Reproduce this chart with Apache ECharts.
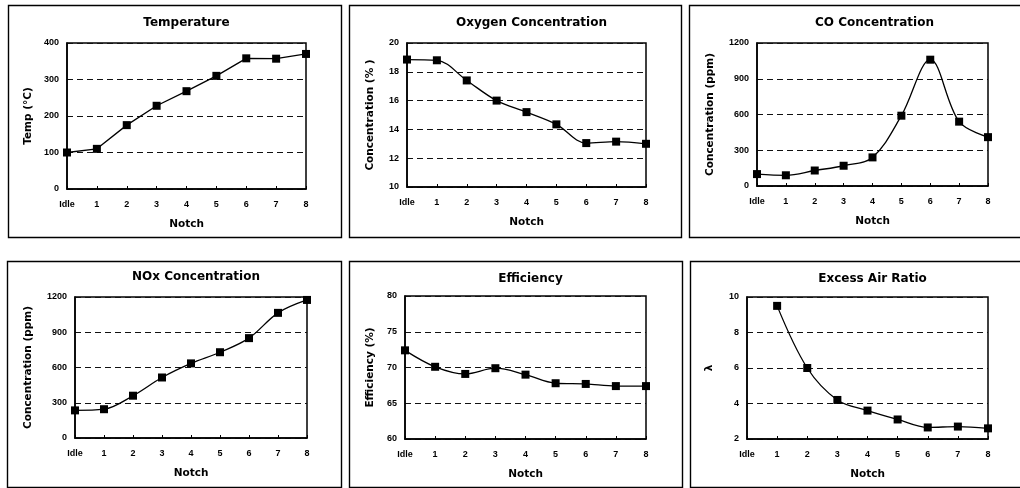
<!DOCTYPE html>
<html>
<head>
<meta charset="utf-8">
<style>
  html, body { margin: 0; padding: 0; background: #fff; }
  #chart { width: 1020px; height: 488px; }
</style>
<script src="https://cdn.jsdelivr.net/npm/echarts@6/dist/echarts.min.js"></script>
</head>
<body>
<div id="chart"></div>
<script>
// ---- Data ----
var notches = ['Idle', '1', '2', '3', '4', '5', '6', '7', '8'];
var temperature = [100, 110, 175, 228, 268, 310, 358, 357, 370];
var oxygen = [18.85, 18.8, 17.4, 16.0, 15.2, 14.35, 13.05, 13.15, 13.0];
var coConc = [100, 90, 130, 170, 240, 590, 1060, 540, 410];
var noxConc = [235, 245, 360, 515, 635, 730, 850, 1065, 1175];
var efficiency = [72.4, 70.1, 69.1, 69.9, 69.0, 67.8, 67.7, 67.4, 67.4];
var excessAir = [null, 9.5, 6.0, 4.2, 3.6, 3.1, 2.65, 2.7, 2.6];

var titles = ['Temperature', 'Oxygen Concentration', 'CO Concentration',
              'NOx Concentration', 'Efficiency', 'Excess Air Ratio'];
var yNames = ['Temp (\u00B0C)', 'Concentration (% )', 'Concentration (ppm)',
              'Concentration (ppm)', 'Efficiency (%)', '\u03BB'];
var yMin = [0, 10, 0, 0, 60, 2];
var yMax = [400, 20, 1200, 1200, 80, 10];
var yStep = [100, 2, 300, 300, 5, 2];
var seriesData = [temperature, oxygen, coConc, noxConc, efficiency, excessAir];

// ---- Layout (positions only) ----
var grids = [
  {left: 67, top: 43, width: 239, height: 146},
  {left: 407, top: 43, width: 239, height: 144},
  {left: 757, top: 43, width: 231, height: 143},
  {left: 75, top: 297, width: 232, height: 141},
  {left: 405, top: 296, width: 241, height: 143},
  {left: 747, top: 297, width: 241, height: 142}
];
var titleTops = [12, 12, 12, 266, 268, 268];
var titleShift = [-5, 0, -3, 0, 0, 0];
var yNameGaps = [33, 31, 41, 41, 29, 32];
var panels = [
  [8, 5, 333, 232], [349, 5, 332, 232], [689, 5, 340, 232],
  [7, 261, 334, 226], [349, 261, 333, 226], [690, 261, 340, 226]
];

var TFONT = 'DejaVu Sans, sans-serif';
var LFONT = 'Liberation Sans, Arial, sans-serif';
var chart = echarts.init(document.getElementById('chart'), null, {renderer: 'canvas'});

var option = {
  backgroundColor: '#fff',
  animation: false,
  title: [], grid: [], xAxis: [], yAxis: [], series: [],
  graphic: []
};

for (var i = 0; i < 6; i++) {
  var g = grids[i];
  option.graphic.push({
    type: 'rect', silent: true, z: -1,
    shape: {x: panels[i][0] + 0.5, y: panels[i][1] + 0.5, width: panels[i][2], height: panels[i][3]},
    style: {fill: null, stroke: '#000', lineWidth: 1.4}
  });
  option.title.push({
    text: titles[i],
    left: g.left + g.width / 2 + titleShift[i], top: titleTops[i], textAlign: 'center',
    textStyle: {fontFamily: TFONT, fontWeight: 'bold', fontSize: 12, color: '#000'}
  });
  option.grid.push({
    left: g.left, top: g.top, width: g.width, height: g.height,
    show: true, borderColor: '#000', borderWidth: 1.5, backgroundColor: 'transparent'
  });
  option.xAxis.push({
    type: 'category', gridIndex: i, data: notches, boundaryGap: false,
    name: 'Notch', nameLocation: 'middle', nameGap: 30,
    nameTextStyle: {fontFamily: TFONT, fontWeight: 'bold', fontSize: 10.5, color: '#000'},
    axisLine: {lineStyle: {color: '#000', width: 1.5}},
    axisTick: {show: true, inside: true, length: 3, lineStyle: {color: '#000'}},
    axisLabel: {fontFamily: LFONT, fontWeight: 'bold', fontSize: 9, color: '#000', margin: 11, interval: 0},
    splitLine: {show: false}
  });
  option.yAxis.push({
    type: 'value', gridIndex: i, min: yMin[i], max: yMax[i], interval: yStep[i],
    name: yNames[i], nameLocation: 'middle', nameGap: yNameGaps[i],
    nameTextStyle: {fontFamily: TFONT, fontWeight: 'bold', fontSize: 10.5, color: '#000'},
    axisLine: {show: true, lineStyle: {color: '#000', width: 1.5}},
    axisTick: {show: false},
    axisLabel: {fontFamily: LFONT, fontWeight: 'bold', fontSize: 9, color: '#000', margin: 8,
                formatter: function (v) { return String(v); }},
    splitLine: {show: true, lineStyle: {color: '#111', type: [6, 4], width: 1}}
  });
  option.series.push({
    type: 'line', xAxisIndex: i, yAxisIndex: i, data: seriesData[i],
    smooth: i === 0 ? false : 0.35,
    symbol: 'rect', symbolSize: 8,
    lineStyle: {color: '#000', width: 1.3},
    itemStyle: {color: '#000'},
    connectNulls: false, clip: false
  });
}

chart.setOption(option);
</script>
</body>
</html>
